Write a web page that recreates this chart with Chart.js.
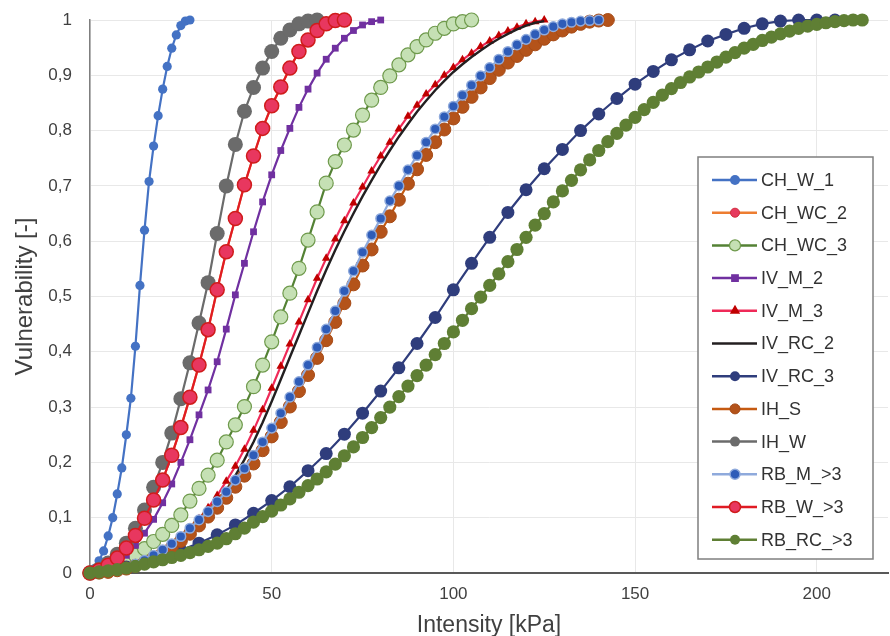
<!DOCTYPE html>
<html>
<head>
<meta charset="utf-8">
<script src="https://cdn.jsdelivr.net/npm/chart.js@4.4.1/dist/chart.umd.min.js"></script>
<style>
  html, body { margin: 0; padding: 0; background: #fff; }
  #wrap { width: 890px; height: 636px; }
</style>
</head>
<body>
<div id="wrap"><canvas id="myChart" width="890" height="636"></canvas></div>
<script>
// intensidad [kPa] - rejilla comun de 2,5 kPa
const kpaGrid = [0, 2.5, 5, 7.5, 10, 12.5, 15, 17.5, 20, 22.5, 25, 27.5, 30, 32.5, 35, 37.5, 40, 42.5, 45, 47.5,
  50, 52.5, 55, 57.5, 60, 62.5, 65, 67.5, 70, 72.5, 75, 77.5, 80, 82.5, 85, 87.5, 90, 92.5, 95, 97.5,
  100, 102.5, 105, 107.5, 110, 112.5, 115, 117.5, 120, 122.5, 125, 127.5, 130, 132.5, 135, 137.5, 140, 142.5, 145, 147.5,
  150, 152.5, 155, 157.5, 160, 162.5, 165, 167.5, 170, 172.5, 175, 177.5, 180, 182.5, 185, 187.5, 190, 192.5, 195, 197.5,
  200, 202.5, 205, 207.5, 210, 212.5];
const chW1Kpa = [0, 1.25, 2.5, 3.75, 5, 6.25, 7.5, 8.75, 10, 11.25, 12.5, 13.75, 15, 16.25, 17.5, 18.75, 20, 21.25, 22.5, 23.75, 25, 26.25, 27.5];
const rc3Kpa = [0, 5, 10, 15, 20, 25, 30, 35, 40, 45, 50, 55, 60, 65, 70, 75, 80, 85, 90, 95, 100, 105, 110, 115, 120,
  125, 130, 135, 140, 145, 150, 155, 160, 165, 170, 175, 180, 185, 190, 195, 200, 205];

// vulnerabilidad [-]
const chW1 = [0, 0.008, 0.022, 0.04, 0.067, 0.1, 0.143, 0.19, 0.25, 0.316, 0.41, 0.52, 0.62, 0.708, 0.772, 0.827, 0.875, 0.916, 0.949, 0.973, 0.99, 0.998, 1];
const rbW = [0, 0.005, 0.014, 0.027, 0.045, 0.068, 0.099, 0.132, 0.168, 0.213, 0.263, 0.318, 0.376, 0.44, 0.512, 0.581, 0.641, 0.702, 0.754, 0.804,
  0.845, 0.879, 0.913, 0.943, 0.964, 0.981, 0.993, 0.999, 1];
const chWc2 = [0, 0.005, 0.014, 0.027, 0.045, 0.068, 0.099, 0.132, 0.168, 0.213, 0.263, 0.318, 0.376, 0.44, 0.512, 0.581, 0.641, 0.702, 0.754, 0.804,
  0.845, 0.879, 0.913, 0.943, 0.964, 0.981, 0.993, 0.999, 1];
const chWc3 = [0, 0.002, 0.006, 0.013, 0.022, 0.032, 0.044, 0.057, 0.07, 0.086, 0.105, 0.13, 0.153, 0.177, 0.204, 0.237, 0.268, 0.301, 0.337, 0.376,
  0.418, 0.463, 0.506, 0.551, 0.602, 0.653, 0.705, 0.744, 0.774, 0.801, 0.828, 0.855, 0.878, 0.899, 0.919, 0.937, 0.952, 0.964, 0.976, 0.985,
  0.993, 0.997, 1];
const ivM2 = [0, 0.002, 0.008, 0.018, 0.032, 0.05, 0.072, 0.097, 0.127, 0.161, 0.2, 0.241, 0.286, 0.331, 0.382, 0.441, 0.503, 0.56, 0.617, 0.671,
  0.72, 0.764, 0.804, 0.842, 0.875, 0.904, 0.929, 0.949, 0.967, 0.981, 0.991, 0.997, 1];
const ivM3 = [0, 0.001, 0.003, 0.006, 0.011, 0.016, 0.023, 0.031, 0.041, 0.052, 0.065, 0.08, 0.098, 0.118, 0.14, 0.166, 0.193, 0.224, 0.258, 0.295,
  0.334, 0.374, 0.414, 0.454, 0.494, 0.533, 0.569, 0.604, 0.637, 0.669, 0.698, 0.727, 0.754, 0.779, 0.803, 0.826, 0.846, 0.866, 0.883, 0.9,
  0.914, 0.928, 0.94, 0.952, 0.962, 0.972, 0.98, 0.987, 0.993, 0.997, 1];
const ivRc2 = [0, 0.001, 0.002, 0.005, 0.009, 0.014, 0.02, 0.027, 0.036, 0.046, 0.058, 0.072, 0.088, 0.106, 0.127, 0.15, 0.176, 0.205, 0.237, 0.272,
  0.31, 0.35, 0.39, 0.43, 0.47, 0.51, 0.548, 0.584, 0.618, 0.65, 0.681, 0.71, 0.738, 0.764, 0.789, 0.812, 0.834, 0.854, 0.873, 0.89,
  0.906, 0.92, 0.933, 0.945, 0.956, 0.966, 0.975, 0.983, 0.99, 0.995, 0.998];
const ivRc3 = [0, 0.005, 0.011, 0.019, 0.029, 0.041, 0.054, 0.069, 0.087, 0.108, 0.131, 0.156, 0.185, 0.216, 0.251, 0.289, 0.329, 0.371, 0.415, 0.462,
  0.512, 0.56, 0.607, 0.652, 0.693, 0.731, 0.766, 0.8, 0.83, 0.858, 0.884, 0.907, 0.928, 0.946, 0.962, 0.974, 0.985, 0.993, 0.998, 1,
  1, 1];
const ihS = [0, 0.001, 0.002, 0.005, 0.008, 0.013, 0.019, 0.027, 0.036, 0.046, 0.058, 0.071, 0.086, 0.102, 0.118, 0.136, 0.156, 0.176, 0.198, 0.222,
  0.247, 0.273, 0.301, 0.329, 0.358, 0.389, 0.421, 0.454, 0.488, 0.522, 0.556, 0.585, 0.617, 0.645, 0.675, 0.704, 0.73, 0.756, 0.779, 0.802,
  0.822, 0.843, 0.861, 0.878, 0.895, 0.91, 0.923, 0.935, 0.946, 0.956, 0.966, 0.974, 0.981, 0.988, 0.993, 0.997, 0.999, 1];
const ihW = [0, 0.007, 0.018, 0.034, 0.054, 0.081, 0.114, 0.155, 0.2, 0.253, 0.315, 0.38, 0.452, 0.525, 0.614, 0.7, 0.775, 0.835, 0.878, 0.913,
  0.943, 0.967, 0.982, 0.993, 0.998, 1];
const rbM = [0, 0.001, 0.003, 0.006, 0.01, 0.016, 0.023, 0.032, 0.042, 0.053, 0.066, 0.081, 0.096, 0.111, 0.129, 0.147, 0.168, 0.189, 0.213, 0.237,
  0.262, 0.289, 0.318, 0.346, 0.376, 0.408, 0.441, 0.474, 0.51, 0.546, 0.58, 0.611, 0.641, 0.673, 0.7, 0.729, 0.755, 0.779, 0.803, 0.825,
  0.844, 0.864, 0.882, 0.899, 0.914, 0.929, 0.943, 0.955, 0.965, 0.974, 0.982, 0.988, 0.993, 0.996, 0.998, 0.999, 1];
const rbRc = [0, 0.002, 0.004, 0.006, 0.009, 0.012, 0.016, 0.02, 0.024, 0.028, 0.032, 0.037, 0.042, 0.048, 0.054, 0.062, 0.071, 0.081, 0.092, 0.102,
  0.112, 0.123, 0.134, 0.146, 0.158, 0.17, 0.183, 0.197, 0.212, 0.228, 0.245, 0.263, 0.281, 0.3, 0.319, 0.338, 0.357, 0.376, 0.395, 0.415,
  0.436, 0.457, 0.478, 0.499, 0.52, 0.541, 0.563, 0.585, 0.607, 0.629, 0.65, 0.671, 0.691, 0.71, 0.729, 0.747, 0.764, 0.78, 0.795, 0.81,
  0.824, 0.838, 0.851, 0.864, 0.876, 0.887, 0.897, 0.906, 0.915, 0.924, 0.933, 0.941, 0.949, 0.956, 0.963, 0.969, 0.975, 0.98, 0.985, 0.989,
  0.992, 0.995, 0.997, 0.999, 1, 1];

const xTicks = [0, 50, 100, 150, 200];
const yTickValues = [0, 0.1, 0.2, 0.3, 0.4, 0.5, 0.6, 0.7, 0.8, 0.9, 1];
const yTickLabels = ['0', '0,1', '0,2', '0,3', '0,4', '0,5', '0,6', '0,7', '0,8', '0,9', '1'];

function pares(xs, ys) {
    return ys.map((v, i) => ({ x: xs[i], y: v }));
}

const series = [
    { label: 'CH_W_1', data: pares(chW1Kpa, chW1), borderColor: '#4472c4', pointBackgroundColor: '#4472c4', pointBorderColor: '#4472c4', pointRadius: 4.6, pointBorderWidth: 0, pointStyle: 'circle', lr: 5 },
    { label: 'CH_WC_2', data: pares(kpaGrid, chWc2), borderColor: '#ed7d31', pointBackgroundColor: '#e63a5e', pointBorderColor: '#d22b3c', pointRadius: 6, pointBorderWidth: 1, pointStyle: 'circle', lr: 4.5 },
    { label: 'CH_WC_3', data: pares(kpaGrid, chWc3), borderColor: '#548235', pointBackgroundColor: '#c5e0b4', pointBorderColor: '#6f9a4c', pointRadius: 7, pointBorderWidth: 1.2, pointStyle: 'circle', lr: 5.5 },
    { label: 'IV_M_2', data: pares(kpaGrid, ivM2), borderColor: '#7030a0', pointBackgroundColor: '#7030a0', pointBorderColor: '#7030a0', pointRadius: 4.8, pointBorderWidth: 0, pointStyle: 'rect', lr: 5.5 },
    { label: 'IV_M_3', data: pares(kpaGrid, ivM3), borderColor: '#ef2a58', pointBackgroundColor: '#c00000', pointBorderColor: '#c00000', pointRadius: 5, pointBorderWidth: 0, pointStyle: 'triangle', lr: 6 },
    { label: 'IV_RC_2', data: pares(kpaGrid, ivRc2), borderColor: '#231f20', pointBackgroundColor: '#231f20', pointBorderColor: '#231f20', pointRadius: 0, pointBorderWidth: 0, pointStyle: 'circle', lr: 0 },
    { label: 'IV_RC_3', data: pares(rc3Kpa, ivRc3), borderColor: '#2f3d7c', pointBackgroundColor: '#2f3d7c', pointBorderColor: '#2f3d7c', pointRadius: 6.5, pointBorderWidth: 0, pointStyle: 'circle', lr: 5 },
    { label: 'IH_S', data: pares(kpaGrid, ihS), borderColor: '#c55a11', pointBackgroundColor: '#b4531a', pointBorderColor: '#a64b17', pointRadius: 6.5, pointBorderWidth: 1, pointStyle: 'circle', lr: 5 },
    { label: 'IH_W', data: pares(kpaGrid, ihW), borderColor: '#6b6b6b', pointBackgroundColor: '#6b6b6b', pointBorderColor: '#6b6b6b', pointRadius: 7.5, pointBorderWidth: 0, pointStyle: 'circle', lr: 5 },
    { label: 'RB_M_>3', data: pares(kpaGrid, rbM), borderColor: '#8faadc', pointBackgroundColor: '#2e5cb8', pointBorderColor: '#8faadc', pointRadius: 4.8, pointBorderWidth: 1.5, pointStyle: 'circle', lr: 5 },
    { label: 'RB_W_>3', data: pares(kpaGrid, rbW), borderColor: '#e01b24', pointBackgroundColor: '#e8375f', pointBorderColor: '#d01c1c', pointRadius: 7, pointBorderWidth: 1.5, pointStyle: 'circle', lr: 5.5 },
    { label: 'RB_RC_>3', data: pares(kpaGrid, rbRc), borderColor: '#5f7f34', pointBackgroundColor: '#5f7f34', pointBorderColor: '#5f7f34', pointRadius: 6.6, pointBorderWidth: 0, pointStyle: 'circle', lr: 5 }
];

// Excel dibuja la ultima serie encima
const datasets = series.map((s, i) => Object.assign({
    borderWidth: s.label === 'IV_RC_2' ? 2.4 : 2.2,
    backgroundColor: s.pointBackgroundColor,
    showLine: true,
    tension: 0,
    fill: false,
    clip: false,
    order: series.length - i
}, s));

// leyenda dentro del area del grafico
const leyenda = {
    id: 'leyenda',
    afterDatasetsDraw(chart) {
        const ctx = chart.ctx;
        const x0 = 698, y0 = 157, w = 175, h = 402;
        ctx.save();
        ctx.fillStyle = '#ffffff';
        ctx.fillRect(x0, y0, w, h);
        ctx.strokeStyle = '#7f7f7f';
        ctx.lineWidth = 1.5;
        ctx.strokeRect(x0, y0, w, h);
        chart.data.datasets.forEach((ds, i) => {
            const cy = 180 + i * 32.7;
            ctx.strokeStyle = ds.borderColor;
            ctx.lineWidth = 2.5;
            ctx.beginPath();
            ctx.moveTo(712, cy);
            ctx.lineTo(757, cy);
            ctx.stroke();
            if (ds.lr > 0) {
                ctx.fillStyle = ds.pointBackgroundColor;
                ctx.strokeStyle = ds.pointBorderColor;
                ctx.lineWidth = ds.pointBorderWidth;
                Chart.helpers.drawPoint(ctx, {
                    pointStyle: ds.pointStyle, radius: ds.lr, rotation: 0, borderWidth: ds.pointBorderWidth
                }, 735, cy);
            }
            ctx.fillStyle = '#333333';
            ctx.font = '18px "Liberation Sans", Arial, sans-serif';
            ctx.textBaseline = 'middle';
            ctx.textAlign = 'left';
            ctx.fillText(ds.label, 761, cy + 1);
        });
        ctx.restore();
    }
};

const ctx = document.getElementById('myChart').getContext('2d');
const myChart = new Chart(ctx, {
    type: 'line',
    data: { datasets: datasets },
    options: {
        responsive: false,
        animation: false,
        events: [],
        layout: { autoPadding: false, padding: { top: 20, right: 2, left: 0, bottom: 0 } },
        plugins: {
            legend: { display: false },
            tooltip: { enabled: false }
        },
        scales: {
            x: {
                type: 'linear',
                min: 0,
                max: 219.6,
                afterBuildTicks: (s) => { s.ticks = xTicks.map(v => ({ value: v })); },
                afterFit: (s) => {
                    s.height = 63;
                    s.paddingLeft = 0;
                    s.paddingRight = 0;
                },
                grid: { color: '#e8e8e8', lineWidth: 1, drawTicks: false },
                border: { color: '#595959', width: 2 },
                ticks: {
                    padding: 11,
                    color: '#404040',
                    font: { family: '"Liberation Sans", Arial, sans-serif', size: 17 },
                    maxRotation: 0
                },
                title: {
                    display: true,
                    text: 'Intensity [kPa]',
                    color: '#404040',
                    font: { family: '"Liberation Sans", Arial, sans-serif', size: 23 },
                    padding: { top: 0, bottom: -3 }
                }
            },
            y: {
                min: 0,
                max: 1,
                afterBuildTicks: (s) => { s.ticks = yTickValues.map(v => ({ value: v })); },
                afterFit: (s) => {
                    s.width = 90;
                    s.paddingTop = 0;
                    s.paddingBottom = 0;
                },
                grid: { color: '#e8e8e8', lineWidth: 1, drawTicks: false },
                border: { color: '#7f7f7f', width: 1.5 },
                ticks: {
                    padding: 18,
                    color: '#404040',
                    font: { family: '"Liberation Sans", Arial, sans-serif', size: 17 },
                    callback: (v) => yTickLabels[Math.round(v * 10)]
                },
                title: {
                    display: true,
                    text: 'Vulnerability [-]',
                    color: '#404040',
                    font: { family: '"Liberation Sans", Arial, sans-serif', size: 24 },
                    padding: { top: 11, bottom: 0 }
                }
            }
        }
    },
    plugins: [leyenda]
});
</script>
</body>
</html>
